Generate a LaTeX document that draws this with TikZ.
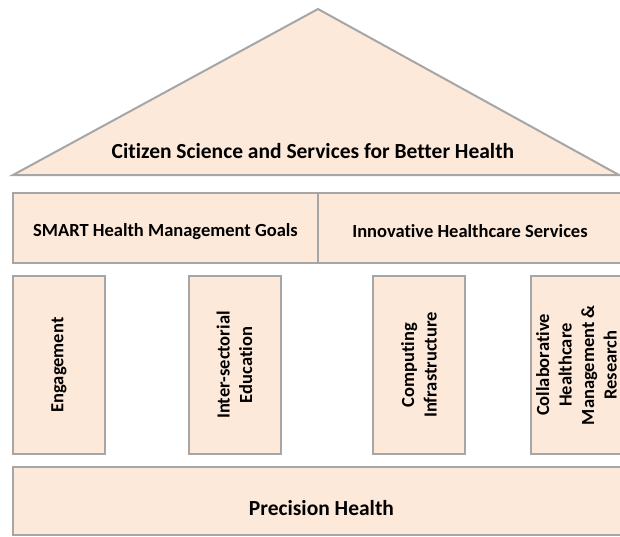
\documentclass[tikz,border=0pt]{standalone}
\usepackage{fontspec}
\setmainfont{Carlito}[Ligatures={NoCommon}]
\usepackage{tikz}
\definecolor{peach}{HTML}{FDE9D9}
\definecolor{edge}{HTML}{A6A6A6}
\tikzstyle{box}=[draw=edge,fill=peach,line width=2pt,inner sep=0pt,outer sep=0pt,font=\bfseries\fontsize{18.5}{22.5}\selectfont]
\tikzstyle{pillar}=[box,rotate=90,minimum width=178pt,minimum height=92pt,align=center]
\tikzstyle{label}=[font=\bfseries\fontsize{21.5}{26}\selectfont]
\tikzstyle{small}=[font=\bfseries\fontsize{18.5}{22.5}\selectfont]

\begin{document}
\begin{tikzpicture}[x=1pt,y=-1pt]
  \clip (0,0) rectangle (620,536);
  % roof
  \coordinate (eaveL) at (13,175);
  \coordinate (ridge) at (318,9);
  \coordinate (eaveR) at (619,175);
  \draw[box,line join=miter] (eaveL) -- (ridge) -- (eaveR) -- cycle;
  \node[label] at (313,151) (citizen) {Citizen Science and Services for Better Health};
  % beam
  \node[box,minimum width=305pt,minimum height=70pt] at (165.5,228) (smart) {};
  \node[box,minimum width=304pt,minimum height=70pt] at (470,228) (innov) {};
  \node[small] at ([yshift=-3.5pt]smart.center) (goals) {SMART Health Management Goals};
  \node[small] at ([yshift=-3.5pt]innov.center) (services) {Innovative Healthcare Services};
  % pillars
  \node[pillar] at (59,365) (engage) {Engagement};
  \node[pillar] at (234.5,365) (educ) {Inter-sectorial\\Education};
  \node[pillar] at (419,365) (infra) {Computing\\Infrastructure};
  \node[pillar] at (576.5,365) (collab) {Collaborative\\Healthcare\\Management \&\\Research};
  % foundation
  \node[box,minimum width=617pt,minimum height=68pt] at (321.5,501) (base) {};
  \node[label] at ([yshift=-7pt]base.center) (precision) {Precision Health};
\end{tikzpicture}
\end{document}
